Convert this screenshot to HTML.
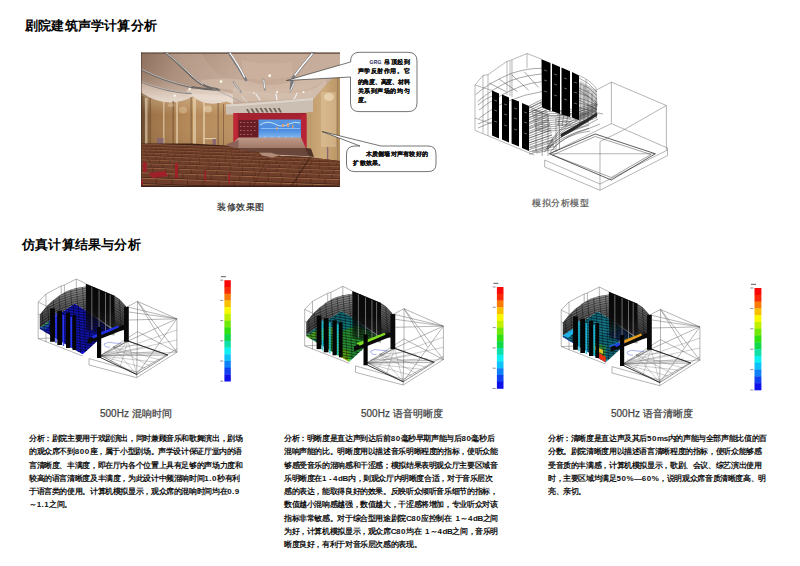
<!DOCTYPE html>
<html><head><meta charset="utf-8">
<style>
*{margin:0;padding:0;box-sizing:border-box}
html,body{width:800px;height:566px;background:#fff;overflow:hidden}
body{position:relative;font-family:"Liberation Sans",sans-serif;color:#000}
.a{position:absolute}
.h{font-size:13px;font-weight:bold;line-height:15px;white-space:nowrap;letter-spacing:0.2px}
.cap{font-size:9px;letter-spacing:0.5px;line-height:11px;white-space:nowrap;color:#555;-webkit-text-stroke:0.2px currentColor}
.cap2{font-size:10px;line-height:12px;white-space:nowrap;color:#444;-webkit-text-stroke:0.25px #444}
.p{font-size:8px;letter-spacing:-0.38px;line-height:13.3px;font-weight:bold;white-space:nowrap;color:#111}
.d{letter-spacing:0.5px}
.co{font-size:6px;line-height:7px;white-space:nowrap;color:#111;font-weight:bold;-webkit-text-stroke:0.15px #111}
</style></head><body>
<div class="a h" style="left:25px;top:18px">剧院建筑声学计算分析</div>
<div class="a h" style="left:22px;top:237px">仿真计算结果与分析</div>

<div class="a cap" style="left:217px;top:201.5px;color:#2a2a2a">装修效果图</div>
<div class="a cap" style="left:532px;top:197.5px;color:#5a5a5a">模拟分析模型</div>

<div class="a cap2" style="left:100px;top:407.5px">500Hz 混响时间</div>
<div class="a cap2" style="left:361px;top:407.5px">500Hz 语音明晰度</div>
<div class="a cap2" style="left:611px;top:407.5px">500Hz 语音清晰度</div>

<div class="a p" style="left:29px;top:432px">分析：剧院主要用于戏剧演出，同时兼顾音乐和歌舞演出，剧场<br>的观众席不到<span class="d">800</span>座，属于小型剧场。声学设计保证厅堂内的语<br>言清晰度、丰满度，即在厅内各个位置上具有足够的声场力度和<br>较高的语言清晰度及丰满度，为此设计中频混响时间<span class="d">1.0</span>秒有利<br>于语言类的使用。计算机模拟显示，观众席的混响时间均在<span class="d">0.9</span><br>～<span class="d">1.1</span>之间。</div>

<div class="a p" style="left:284px;top:432px">分析：明晰度是直达声到达后前<span class="d">80</span>毫秒早期声能与后<span class="d">80</span>毫秒后<br>混响声能的比。明晰度用以描述音乐明晰程度的指标，使听众能<br>够感受音乐的混响感和干涩感；模拟结果表明观众厅主要区域音<br>乐明晰度在<span class="d">1</span> - <span class="d">4</span>dB内，则观众厅内明晰度合适，对于音乐层次<br>感的表达，能取得良好的效果。反映听众倾听音乐细节的指标，<br>数值越小混响感越强，数值越大，干涩感将增加，专业听众对该<br>指标非常敏感。对于综合型用途剧院C<span class="d">80</span>应控制在&nbsp; <span class="d">1</span>～<span class="d">4</span>dB之间<br>为好，计算机模拟显示，观众席C<span class="d">80</span>均在&nbsp; <span class="d">1</span>～<span class="d">4</span>dB之间，音乐明<br>晰度良好，有利于对音乐层次感的表现。</div>

<div class="a p" style="left:548px;top:432px">分析：清晰度是直达声及其后<span class="d">50</span>ms内的声能与全部声能比值的百<br>分数。剧院清晰度用以描述语言清晰程度的指标，使听众能够感<br>受音质的丰满感，计算机模拟显示，歌剧、会议、综艺演出使用<br>时，主要区域均满足<span class="d">50%</span>—<span class="d">60%</span>，说明观众席音质清晰度高、明<br>亮、亲切。</div>

<svg class="a" style="left:141px;top:52px" width="199" height="135" viewBox="0 0 199 135">
<defs>
<linearGradient id="ceil" x1="0" y1="0" x2="1" y2="0.35">
<stop offset="0" stop-color="#8e705e"/><stop offset="0.2" stop-color="#ad907e"/><stop offset="0.5" stop-color="#c4aa98"/><stop offset="1" stop-color="#c8ae9c"/>
</linearGradient>
<linearGradient id="band" x1="0" y1="0" x2="0" y2="1">
<stop offset="0" stop-color="#b8a28e" stop-opacity="0"/><stop offset="1" stop-color="#eadfd4" stop-opacity="0.9"/>
</linearGradient>
<linearGradient id="wallL" x1="0" y1="0" x2="1" y2="0">
<stop offset="0" stop-color="#604028"/><stop offset="0.12" stop-color="#9c7246"/><stop offset="0.5" stop-color="#b48858"/><stop offset="1" stop-color="#bc9262"/>
</linearGradient>
<linearGradient id="wallV" x1="0" y1="0" x2="0" y2="1">
<stop offset="0" stop-color="#fff2d8" stop-opacity="0.35"/><stop offset="0.4" stop-color="#fff2d8" stop-opacity="0"/><stop offset="1" stop-color="#6a4a2a" stop-opacity="0.15"/>
</linearGradient>
<linearGradient id="wallR" x1="0" y1="0" x2="1" y2="0">
<stop offset="0" stop-color="#c09a68"/><stop offset="0.5" stop-color="#ccaa7c"/><stop offset="1" stop-color="#b89262"/>
</linearGradient>
<linearGradient id="screen" x1="0" y1="0" x2="0" y2="1">
<stop offset="0" stop-color="#5a96e0"/><stop offset="0.55" stop-color="#4a8ae0"/><stop offset="1" stop-color="#80b8f0"/>
</linearGradient>
<linearGradient id="stagefl" x1="0" y1="0" x2="0" y2="1">
<stop offset="0" stop-color="#c09888"/><stop offset="1" stop-color="#a07868"/>
</linearGradient>
<linearGradient id="seatrow" x1="0" y1="0" x2="0" y2="1">
<stop offset="0" stop-color="#a87860"/><stop offset="0.3" stop-color="#8a5a44"/><stop offset="1" stop-color="#70422e"/>
</linearGradient>
</defs>
<rect width="199" height="135" fill="url(#ceil)"/>
<!-- ceiling bands lighter lower parts -->
<path d="M0,17.5 Q25,30 50,35 Q70,38 90,42 L92,48 L0,48Z" fill="url(#band)" opacity="0.55"/>
<path d="M24,0 Q40,15 57.5,30 Q70,36 90,42 Q120,48 171,46 L171,30 Q150,38 120,36 Q100,34 90,30 Q70,20 60,0Z" fill="#d0b8a6" opacity="0.25"/>
<linearGradient id="drape" x1="0" y1="0" x2="0" y2="1"><stop offset="0" stop-color="#c8ae9c"/><stop offset="1" stop-color="#f0e6dc"/></linearGradient>
<path d="M0,30 Q25,40 50,41.5 Q70,42 92,44 L92,53 L0,53Z" fill="url(#drape)" opacity="0.9"/>
<path d="M45,38 Q60,36 75,38 Q85,40 92,42 L92,50 L50,46Z" fill="#ece0d4" opacity="0.6"/>
<path d="M88,0 Q97,15 105,28 Q125,38 150,38 Q160,20 172,0Z" fill="#c8a894" opacity="0.3"/>
<path d="M92,36 Q120,44 160,40 Q175,38 185,28 L185,46 L92,50Z" fill="#e0cec0" opacity="0.45"/>
<path d="M60,28 Q90,24 110,30 Q130,36 150,30 Q165,26 180,20 L185,28 Q170,40 150,40 Q125,44 100,40 Q80,36 60,34Z" fill="#dcc6b4" opacity="0.45"/>
<path d="M100,8 Q125,14 150,10 L152,24 Q128,30 104,26Z" fill="#d4bca8" opacity="0.35"/>
<rect width="199" height="1.2" fill="#9a9088"/><rect y="1.2" width="199" height="0.8" fill="#6a5040"/>
<!-- silver strips -->
<g fill="none" stroke-linecap="round">
<path d="M24,0 Q36,10 48,22 Q56,30 64,34 Q70,36.5 76,37" stroke="#6a6664" stroke-width="2.2"/>
<path d="M25,0.5 Q37,10 49,22 Q56,29 62,32.5" stroke="#e0dcd8" stroke-width="0.9"/>
<path d="M0,17.5 Q25,30 50,35 Q65,37.5 78,38" stroke="#6a6664" stroke-width="1.8"/>
<path d="M0,17 Q25,29.5 50,34.5" stroke="#d8d4d0" stroke-width="0.7"/>
<path d="M0,30 Q25,40 50,41.5" stroke="#7a7674" stroke-width="1.3"/><path d="M0,29.6 Q25,39.6 50,41.1" stroke="#dedad6" stroke-width="0.5"/>
<path d="M87.5,0 Q97.5,15 105,28" stroke="#7a7a7e" stroke-width="2.6"/>
<path d="M89,1 Q98,14 103.5,25" stroke="#ffffff" stroke-width="1.3"/>
<path d="M172.5,0 Q162.5,12.5 152.5,25 Q150,30 150,37" stroke="#7a7a7e" stroke-width="2.8"/>
<path d="M171,2 Q162,12.5 154,23" stroke="#ffffff" stroke-width="1.5"/>
<path d="M92.5,30 Q96,35 100,40" stroke="#888" stroke-width="1.6"/>
<path d="M93,30.5 Q96,35 99,39" stroke="#f0f0f0" stroke-width="0.7"/>
<path d="M122.5,27.5 Q123.5,32 123.8,37.5" stroke="#888" stroke-width="1.8"/>
<path d="M122.7,28 Q123.5,32 123.6,36" stroke="#fafafa" stroke-width="0.9"/>
<path d="M153,31 Q151,35 149.5,39" stroke="#999" stroke-width="1.6"/>
<path d="M152.8,31.5 Q151,35 149.8,38" stroke="#fafafa" stroke-width="0.8"/>
<path d="M115,42 Q117,45 119,48" stroke="#eee" stroke-width="1.2"/>
<path d="M135,42 Q135.5,45 136,48" stroke="#f4f4f4" stroke-width="1.2"/>
<path d="M156,41 Q155,44 153,47" stroke="#eee" stroke-width="1.1"/>
<path d="M101,44 Q103,47 106,50" stroke="#ddd" stroke-width="0.9"/>
<path d="M72,36.5 Q85,42 100,50" stroke="#9a9a9a" stroke-width="0.7"/>
</g>
<g fill="#fffdf0">
<circle cx="128.7" cy="23.7" r="1.4"/><circle cx="80" cy="29.5" r="1.3"/><circle cx="48.7" cy="37" r="1.2"/><circle cx="33.7" cy="43.7" r="1.1"/><circle cx="29" cy="51" r="0.9"/>
<circle cx="136" cy="40" r="1"/><circle cx="162.5" cy="40" r="1"/><circle cx="113" cy="41" r="0.8"/>
</g>
<!-- left wall -->
<path d="M0,40.5 Q14,50 29,50.6 Q43,50 51.7,44.4 Q60,51.5 72,51.7 Q80,51.5 85.5,49.5 L94,53 L94,97 L0,97Z" fill="url(#wallL)"/>
<path d="M0,40.5 Q14,50 29,50.6 Q43,50 51.7,44.4 Q60,51.5 72,51.7 Q80,51.5 85.5,49.5 L94,53 L94,97 L0,97Z" fill="url(#wallV)"/>
<g fill="#6e4e30" opacity="0.6">
<rect x="0" y="44" width="2.5" height="53"/><rect x="8.5" y="46" width="1.3" height="51"/><rect x="31.5" y="49" width="1.5" height="48"/><rect x="49.5" y="45" width="1.2" height="52"/><rect x="76.5" y="51" width="1.3" height="46"/><rect x="82" y="52" width="1" height="45"/>
</g>
<g fill="#f4e2c0" opacity="0.55">
<rect x="4" y="46" width="2.5" height="50"/><rect x="52" y="46" width="3" height="50"/><rect x="35" y="50" width="2" height="46"/><rect x="62" y="50" width="2" height="46"/><rect x="22" y="49" width="1.5" height="47"/>
</g>
<ellipse cx="67" cy="57" rx="4" ry="3.5" fill="#fff4da" opacity="0.4"/>
<ellipse cx="42" cy="58" rx="4" ry="3.5" fill="#f4e4c4" opacity="0.3"/>
<ellipse cx="30" cy="53" rx="3" ry="2" fill="#f4e4c4" opacity="0.3"/>
<rect x="16" y="86" width="6.5" height="8" fill="#8a6670"/>
<rect x="64" y="86" width="11" height="1.2" fill="#e0c8a8"/>
<rect x="71.5" y="87" width="3.5" height="8" fill="#8a6670"/>
<!-- right wall -->
<path d="M166,60 Q170,50 176,43 Q184,33 191,27 Q195,25.5 199,25 L199,112 L166,104Z" fill="url(#wallR)"/>
<rect x="180" y="40" width="15" height="55" fill="#e8d0a8" opacity="0.4"/>
<ellipse cx="188" cy="45" rx="5" ry="4" fill="#fff2d8" opacity="0.45"/>
<rect x="186" y="95" width="1.3" height="13" fill="#8a6670"/>
<rect x="196" y="26" width="1.3" height="86" fill="#a08058"/>
<rect x="169" y="60" width="1" height="45" fill="#b89870" opacity="0.6"/>
<!-- valance -->
<path d="M85,52.5 Q100,52 120,50 Q150,48 172,46 L172,60 Q140,61.5 85,62.5Z" fill="#cbbfb4"/>
<path d="M85,52.5 Q130,50 172,46 L172,48 Q130,52 85,54.5Z" fill="#ddd4ca"/>
<g fill="#4e4038" opacity="0.75">
<path d="M105,57 l2,0 l2.5,4.5 l-2,0z"/><path d="M109.5,56.5 l2,0 l2.5,4.5 l-2,0z"/><path d="M114,56.3 l2,0 l2.5,4.5 l-2,0z"/><path d="M118.5,56 l2,0 l2.5,4.5 l-2,0z"/><path d="M123,56 l2,0 l2.5,4.5 l-2,0z"/><path d="M127.5,56 l2,0 l2.5,4.5 l-2,0z"/><path d="M132,56 l2,0 l2.5,4.5 l-2,0z"/><path d="M136.5,56 l2,0 l2.5,4.5 l-2,0z"/>
</g>
<!-- stage frame -->
<rect x="92.5" y="61" width="73" height="36" fill="#a42230"/>
<rect x="92.5" y="61" width="4" height="36" fill="#c02838"/>
<rect x="160" y="63" width="5.5" height="34" fill="#b82434"/>
<rect x="97.5" y="68" width="20" height="22" fill="#6a1c24"/>
<g fill="#c8a0a0" opacity="0.55">
<rect x="99" y="70" width="1.6" height="1"/><rect x="102.5" y="70" width="1.6" height="1"/><rect x="106" y="70" width="1.6" height="1"/><rect x="109.5" y="70" width="1.6" height="1"/><rect x="113" y="70" width="1.6" height="1"/>
<rect x="99" y="74" width="1.6" height="1"/><rect x="102.5" y="74" width="1.6" height="1"/><rect x="106" y="74" width="1.6" height="1"/><rect x="109.5" y="74" width="1.6" height="1"/><rect x="113" y="74" width="1.6" height="1"/>
<rect x="99" y="78" width="1.6" height="1"/><rect x="102.5" y="78" width="1.6" height="1"/><rect x="106" y="78" width="1.6" height="1"/><rect x="109.5" y="78" width="1.6" height="1"/><rect x="113" y="78" width="1.6" height="1"/>
<rect x="99" y="82" width="1.6" height="1"/><rect x="102.5" y="82" width="1.6" height="1"/><rect x="106" y="82" width="1.6" height="1"/><rect x="109.5" y="82" width="1.6" height="1"/>
</g>
<rect x="117.5" y="67.5" width="42.5" height="18.5" fill="url(#screen)"/>
<path d="M119,73 Q126,68 134,72 Q140,76 148,72 Q154,69 159,71" stroke="#bfe4fa" stroke-width="1" fill="none"/>
<path d="M120,76.5 L159,76.5" stroke="#9ccaf4" stroke-width="0.8"/>
<g fill="#e8a060" opacity="0.85"><rect x="141" y="72" width="2" height="3"/><rect x="146" y="71" width="2" height="4"/><rect x="135" y="75" width="1.5" height="3"/><rect x="151" y="73" width="1.5" height="3"/></g>
<g fill="#fff" opacity="0.8"><circle cx="124" cy="85" r="0.6"/><circle cx="131" cy="85" r="0.6"/><circle cx="138" cy="85" r="0.6"/><circle cx="145" cy="85" r="0.6"/><circle cx="151" cy="85" r="0.6"/></g>
<!-- stage floor -->
<path d="M97.5,85.5 L160,85.5 L165,96.5 L86,96.5 Z" fill="url(#stagefl)"/>
<path d="M86,92 L97.5,88 L97.5,96.5 L86,96.5Z" fill="#8a6258"/>
<path d="M84,96 L166,96 L170,100 L172,104.5 L84,100Z" fill="#6a463a"/>
<path d="M164,96 L170,96.5 L173,105 L168,104Z" fill="#50342a"/>
<!-- seating -->
<clipPath id="seatclip"><path d="M0,91.5 L50,91.5 L85,93.5 L100,98 L120,100.5 L132,102 L140,104 L166,105 L199,109 L199,135 L0,135Z"/></clipPath>
<g clip-path="url(#seatclip)">
<rect x="0" y="88" width="199" height="47" fill="#3e2216"/>
<path d="M0,92.0 L199,99.0 L199,101.0 L0,94.0Z" fill="#6e3e2a"/>
<path d="M0,92.0 L199,99.0" stroke="#a06848" stroke-width="0.64"/>
<path d="M0.0,92.0 l0,2.0 M3.0,92.1 l0,2.0 M6.0,92.2 l0,2.0 M9.0,92.3 l0,2.0 M12.0,92.4 l0,2.0 M15.0,92.5 l0,2.0 M18.0,92.6 l0,2.0 M21.0,92.7 l0,2.0 M24.0,92.8 l0,2.0 M27.0,92.9 l0,2.0 M30.0,93.0 l0,2.0 M33.0,93.2 l0,2.0 M36.0,93.3 l0,2.0 M39.0,93.4 l0,2.0 M42.0,93.5 l0,2.0 M45.0,93.6 l0,2.0 M48.0,93.7 l0,2.0 M51.0,93.8 l0,2.0 M54.0,93.9 l0,2.0 M57.0,94.0 l0,2.0 M60.0,94.1 l0,2.0 M63.0,94.2 l0,2.0 M66.0,94.3 l0,2.0 M69.0,94.4 l0,2.0 M72.0,94.5 l0,2.0 M75.0,94.6 l0,2.0 M78.0,94.7 l0,2.0 M81.0,94.8 l0,2.0 M84.0,94.9 l0,2.0 M87.0,95.0 l0,2.0 M90.0,95.2 l0,2.0 M93.0,95.3 l0,2.0 M96.0,95.4 l0,2.0 M99.0,95.5 l0,2.0 M102.0,95.6 l0,2.0 M105.0,95.7 l0,2.0 M108.0,95.8 l0,2.0 M111.0,95.9 l0,2.0 M114.0,96.0 l0,2.0 M117.0,96.1 l0,2.0 M120.0,96.2 l0,2.0 M123.0,96.3 l0,2.0 M126.0,96.4 l0,2.0 M129.0,96.5 l0,2.0 M132.0,96.6 l0,2.0 M135.0,96.7 l0,2.0 M138.0,96.8 l0,2.0 M141.0,96.9 l0,2.0 M144.0,97.0 l0,2.0 M147.0,97.1 l0,2.0 M150.0,97.2 l0,2.0 M153.0,97.4 l0,2.0 M156.0,97.5 l0,2.0 M159.0,97.6 l0,2.0 M162.0,97.7 l0,2.0 M165.0,97.8 l0,2.0 M168.0,97.9 l0,2.0 M171.0,98.0 l0,2.0 M174.0,98.1 l0,2.0 M177.0,98.2 l0,2.0 M180.0,98.3 l0,2.0 M183.0,98.4 l0,2.0 M186.0,98.5 l0,2.0 M189.0,98.6 l0,2.0 M192.0,98.7 l0,2.0 M195.0,98.8 l0,2.0 M198.0,98.9 l0,2.0" stroke="#3e2216" stroke-width="0.30" opacity="0.7"/>
<path d="M0,94.8 L199,101.8 L199,104.0 L0,97.0Z" fill="#6e3e2a"/>
<path d="M0,94.8 L199,101.8" stroke="#a06848" stroke-width="0.66"/>
<path d="M1.7,94.9 l0,2.2 M6.1,95.0 l0,2.2 M10.5,95.2 l0,2.2 M14.9,95.3 l0,2.2 M19.3,95.5 l0,2.2 M23.7,95.6 l0,2.2 M28.1,95.8 l0,2.2 M32.5,95.9 l0,2.2 M36.9,96.1 l0,2.2 M41.3,96.2 l0,2.2 M45.7,96.4 l0,2.2 M50.1,96.6 l0,2.2 M54.5,96.7 l0,2.2 M58.9,96.9 l0,2.2 M63.3,97.0 l0,2.2 M67.7,97.2 l0,2.2 M72.1,97.3 l0,2.2 M76.5,97.5 l0,2.2 M80.9,97.6 l0,2.2 M85.3,97.8 l0,2.2 M89.7,97.9 l0,2.2 M94.1,98.1 l0,2.2 M98.5,98.2 l0,2.2 M102.9,98.4 l0,2.2 M107.3,98.6 l0,2.2 M111.7,98.7 l0,2.2 M116.1,98.9 l0,2.2 M120.5,99.0 l0,2.2 M124.9,99.2 l0,2.2 M129.3,99.3 l0,2.2 M133.7,99.5 l0,2.2 M138.1,99.6 l0,2.2 M142.5,99.8 l0,2.2 M146.9,99.9 l0,2.2 M151.3,100.1 l0,2.2 M155.7,100.2 l0,2.2 M160.1,100.4 l0,2.2 M164.5,100.6 l0,2.2 M168.9,100.7 l0,2.2 M173.3,100.9 l0,2.2 M177.7,101.0 l0,2.2 M182.1,101.2 l0,2.2 M186.5,101.3 l0,2.2 M190.9,101.5 l0,2.2 M195.3,101.6 l0,2.2" stroke="#3e2216" stroke-width="0.35" opacity="0.7"/>
<path d="M0,97.7 L199,104.7 L199,107.0 L0,100.1Z" fill="#6e3e2a"/>
<path d="M0,97.7 L199,104.7" stroke="#a06848" stroke-width="0.69"/>
<path d="M3.4,97.8 l0,2.4 M9.2,98.0 l0,2.4 M15.0,98.2 l0,2.4 M20.8,98.4 l0,2.4 M26.6,98.6 l0,2.4 M32.4,98.8 l0,2.4 M38.2,99.0 l0,2.4 M44.0,99.2 l0,2.4 M49.8,99.4 l0,2.4 M55.6,99.6 l0,2.4 M61.4,99.8 l0,2.4 M67.2,100.1 l0,2.4 M73.0,100.3 l0,2.4 M78.8,100.5 l0,2.4 M84.6,100.7 l0,2.4 M90.4,100.9 l0,2.4 M96.2,101.1 l0,2.4 M102.0,101.3 l0,2.4 M107.8,101.5 l0,2.4 M113.6,101.7 l0,2.4 M119.4,101.9 l0,2.4 M125.2,102.1 l0,2.4 M131.0,102.3 l0,2.4 M136.8,102.5 l0,2.4 M142.6,102.7 l0,2.4 M148.4,102.9 l0,2.4 M154.2,103.1 l0,2.4 M160.0,103.3 l0,2.4 M165.8,103.5 l0,2.4 M171.6,103.7 l0,2.4 M177.4,103.9 l0,2.4 M183.2,104.1 l0,2.4 M189.0,104.3 l0,2.4 M194.8,104.5 l0,2.4" stroke="#3e2216" stroke-width="0.40" opacity="0.7"/>
<path d="M0,100.8 L199,107.8 L199,110.3 L0,103.3Z" fill="#6e3e2a"/>
<path d="M0,100.8 L199,107.8" stroke="#a06848" stroke-width="0.71"/>
<path d="M5.1,101.0 l0,2.5 M12.3,101.2 l0,2.5 M19.5,101.5 l0,2.5 M26.7,101.7 l0,2.5 M33.9,102.0 l0,2.5 M41.1,102.2 l0,2.5 M48.3,102.5 l0,2.5 M55.5,102.7 l0,2.5 M62.7,103.0 l0,2.5 M69.9,103.2 l0,2.5 M77.1,103.5 l0,2.5 M84.3,103.8 l0,2.5 M91.5,104.0 l0,2.5 M98.7,104.3 l0,2.5 M105.9,104.5 l0,2.5 M113.1,104.8 l0,2.5 M120.3,105.0 l0,2.5 M127.5,105.3 l0,2.5 M134.7,105.5 l0,2.5 M141.9,105.8 l0,2.5 M149.1,106.0 l0,2.5 M156.3,106.3 l0,2.5 M163.5,106.5 l0,2.5 M170.7,106.8 l0,2.5 M177.9,107.0 l0,2.5 M185.1,107.3 l0,2.5 M192.3,107.5 l0,2.5" stroke="#3e2216" stroke-width="0.45" opacity="0.7"/>
<path d="M0,104.1 L199,111.1 L199,113.9 L0,106.9Z" fill="#6e3e2a"/>
<path d="M0,104.1 L199,111.1" stroke="#a06848" stroke-width="0.75"/>
<path d="M6.8,104.3 l0,2.8 M15.4,104.6 l0,2.8 M24.0,104.9 l0,2.8 M32.6,105.2 l0,2.8 M41.2,105.5 l0,2.8 M49.8,105.8 l0,2.8 M58.4,106.1 l0,2.8 M67.0,106.4 l0,2.8 M75.6,106.7 l0,2.8 M84.2,107.0 l0,2.8 M92.8,107.3 l0,2.8 M101.4,107.6 l0,2.8 M110.0,107.9 l0,2.8 M118.6,108.3 l0,2.8 M127.2,108.6 l0,2.8 M135.8,108.9 l0,2.8 M144.4,109.2 l0,2.8 M153.0,109.5 l0,2.8 M161.6,109.8 l0,2.8 M170.2,110.1 l0,2.8 M178.8,110.4 l0,2.8 M187.4,110.7 l0,2.8 M196.0,111.0 l0,2.8" stroke="#3e2216" stroke-width="0.50" opacity="0.7"/>
<path d="M0,107.7 L199,114.7 L199,117.7 L0,110.8Z" fill="#6e3e2a"/>
<path d="M0,107.7 L199,114.7" stroke="#a06848" stroke-width="0.78"/>
<path d="M8.5,108.0 l0,3.1 M18.5,108.3 l0,3.1 M28.5,108.7 l0,3.1 M38.5,109.0 l0,3.1 M48.5,109.4 l0,3.1 M58.5,109.7 l0,3.1 M68.5,110.1 l0,3.1 M78.5,110.4 l0,3.1 M88.5,110.8 l0,3.1 M98.5,111.1 l0,3.1 M108.5,111.5 l0,3.1 M118.5,111.8 l0,3.1 M128.5,112.2 l0,3.1 M138.5,112.5 l0,3.1 M148.5,112.9 l0,3.1 M158.5,113.2 l0,3.1 M168.5,113.6 l0,3.1 M178.5,113.9 l0,3.1 M188.5,114.3 l0,3.1 M198.5,114.6 l0,3.1" stroke="#3e2216" stroke-width="0.55" opacity="0.7"/>
<path d="M0,111.6 L199,118.6 L199,122.0 L0,115.0Z" fill="#6e3e2a"/>
<path d="M0,111.6 L199,118.6" stroke="#a06848" stroke-width="0.83"/>
<path d="M10.2,112.0 l0,3.4 M21.6,112.4 l0,3.4 M33.0,112.8 l0,3.4 M44.4,113.2 l0,3.4 M55.8,113.6 l0,3.4 M67.2,114.0 l0,3.4 M78.6,114.4 l0,3.4 M90.0,114.8 l0,3.4 M101.4,115.1 l0,3.4 M112.8,115.5 l0,3.4 M124.2,115.9 l0,3.4 M135.6,116.3 l0,3.4 M147.0,116.7 l0,3.4 M158.4,117.1 l0,3.4 M169.8,117.5 l0,3.4 M181.2,117.9 l0,3.4 M192.6,118.3 l0,3.4" stroke="#3e2216" stroke-width="0.60" opacity="0.7"/>
<path d="M0,115.9 L199,122.9 L199,126.7 L0,119.7Z" fill="#6e3e2a"/>
<path d="M0,115.9 L199,122.9" stroke="#a06848" stroke-width="0.89"/>
<path d="M11.9,116.3 l0,3.8 M24.7,116.8 l0,3.8 M37.5,117.2 l0,3.8 M50.3,117.7 l0,3.8 M63.1,118.1 l0,3.8 M75.9,118.6 l0,3.8 M88.7,119.0 l0,3.8 M101.5,119.5 l0,3.8 M114.3,119.9 l0,3.8 M127.1,120.3 l0,3.8 M139.9,120.8 l0,3.8 M152.7,121.2 l0,3.8 M165.5,121.7 l0,3.8 M178.3,122.1 l0,3.8 M191.1,122.6 l0,3.8" stroke="#3e2216" stroke-width="0.65" opacity="0.7"/>
<path d="M0,120.7 L199,127.7 L199,132.1 L0,125.1Z" fill="#6e3e2a"/>
<path d="M0,120.7 L199,127.7" stroke="#a06848" stroke-width="0.97"/>
<path d="M13.6,121.2 l0,4.4 M27.8,121.7 l0,4.4 M42.0,122.2 l0,4.4 M56.2,122.7 l0,4.4 M70.4,123.2 l0,4.4 M84.6,123.7 l0,4.4 M98.8,124.2 l0,4.4 M113.0,124.7 l0,4.4 M127.2,125.2 l0,4.4 M141.4,125.6 l0,4.4 M155.6,126.1 l0,4.4 M169.8,126.6 l0,4.4 M184.0,127.1 l0,4.4 M198.2,127.6 l0,4.4" stroke="#3e2216" stroke-width="0.70" opacity="0.7"/>
<path d="M0,126.2 L199,133.2 L199,138.3 L0,131.3Z" fill="#6e3e2a"/>
<path d="M0,126.2 L199,133.2" stroke="#a06848" stroke-width="1.07"/>
<path d="M15.3,126.7 l0,5.1 M30.9,127.3 l0,5.1 M46.5,127.8 l0,5.1 M62.1,128.4 l0,5.1 M77.7,128.9 l0,5.1 M93.3,129.5 l0,5.1 M108.9,130.0 l0,5.1 M124.5,130.6 l0,5.1 M140.1,131.1 l0,5.1 M155.7,131.6 l0,5.1 M171.3,132.2 l0,5.1 M186.9,132.7 l0,5.1" stroke="#3e2216" stroke-width="0.75" opacity="0.7"/>
<path d="M0,132.5 L199,139.5 L199,145.0 L0,138.0Z" fill="#6e3e2a"/>
<path d="M0,132.5 L199,139.5" stroke="#a06848" stroke-width="1.13"/>
<path d="M0.0,132.5 l0,5.5 M17.0,133.1 l0,5.5 M34.0,133.7 l0,5.5 M51.0,134.3 l0,5.5 M68.0,134.9 l0,5.5 M85.0,135.5 l0,5.5 M102.0,136.1 l0,5.5 M119.0,136.7 l0,5.5 M136.0,137.3 l0,5.5 M153.0,137.9 l0,5.5 M170.0,138.4 l0,5.5 M187.0,139.0 l0,5.5" stroke="#3e2216" stroke-width="0.80" opacity="0.7"/>
<path d="M170,104 L150,135" stroke="#3a2014" stroke-width="1.4" opacity="0.6"/>
<path d="M128,102 L112,135" stroke="#3a2014" stroke-width="1" opacity="0.4"/>
</g>
<path d="M118,100.5 L130,100.8 L139,103.5 L131,105.5 L121,103.5Z" fill="#b08c78"/>
<g fill="#a0202a">
<rect x="2" y="110" width="3.5" height="10"/><path d="M8,121 L24,119 L27,124 L11,126Z"/><rect x="34" y="111" width="3" height="15"/><rect x="63.5" y="118" width="1.6" height="11"/><rect x="87.5" y="121" width="1.5" height="10"/><rect x="0" y="128" width="2" height="7"/>
</g>
<rect x="0" y="133.5" width="199" height="1.5" fill="#3a2018"/>
<rect x="0" y="0" width="1" height="135" fill="#4a3020" opacity="0.5"/>
</svg>
<svg class="a" style="left:0;top:0" width="800" height="566" viewBox="0 0 800 566">
<g fill="#fff" stroke="#3a3a3a" stroke-width="0.7" stroke-linejoin="round">
<path d="M359,52.3 L408,52.3 Q417,52.3 417,61 L417,103 Q417,111.6 408,111.6 L359,111.6 Q350.5,111.6 350.5,103 L350.5,77 L286.5,80.5 L350.5,62 Q350.5,52.3 359,52.3Z"/>
<path d="M355,146 L360,146 L322,131.5 L381,146 L428,146 Q436,146 436,154 L436,164 Q436,171.6 428,171.6 L355,171.6 Q346.5,171.6 346.5,164 L346.5,154 Q346.5,146 355,146Z"/>
</g>
</svg>
<div class="a co" style="left:369.5px;top:59px"><span style="font-family:'Liberation Sans';font-size:5px;color:#5a5a9a;letter-spacing:0.3px">GRG</span><span style="letter-spacing:0.6px"> 吊顶起到</span></div>
<div class="a co" style="left:357.7px;top:68.2px;letter-spacing:0.56px">声学反射作用。它</div>
<div class="a co" style="left:357.7px;top:78.6px;letter-spacing:-0.26px">的角度、高度、材料</div>
<div class="a co" style="left:357.7px;top:87.5px;letter-spacing:0.56px">关系到声场的均匀</div>
<div class="a co" style="left:357.7px;top:97px;letter-spacing:0.56px">度。</div>
<div class="a co" style="left:365.6px;top:150.8px;letter-spacing:0.26px">木质侧墙对声有较好的</div>
<div class="a co" style="left:353.4px;top:160.4px;letter-spacing:0.26px">扩散效果。</div>
<svg class="a" style="left:0;top:0" width="800" height="566" viewBox="0 0 800 566">
<!-- ===== top-right wireframe model ===== -->
<g stroke="#707070" stroke-width="0.5" fill="none">
<path d="M475,85 L483,75.4 L488,74.7 L507,61.3 L512,59.8 L527,53.5 L541.5,59.2"/>
<path d="M475,85 L475,130.4 L534.3,155.1"/>
<path d="M483,75.4 L483,133.5 M488,74.7 L488,135.8 M507,61.3 L507,95 M512,59.8 L512,97 M527,53.5 L527,68"/>
<path d="M475,85 L492,90.5"/>
<path d="M579,75.4 Q590,80 596,88 L597,107 M586,79 L586,100"/>
<path d="M475,118 L492,124"/>
</g>
<rect x="509" y="60" width="2.5" height="36" fill="#c8c8c8" opacity="0.6"/>
<g stroke="#505050" stroke-width="0.5" fill="none">
<!-- balcony arcs left -->
<path d="M475.6,94.5 Q490,82 511.6,73.3 Q528,68 542,68.3"/>
<path d="M477.7,101.5 Q492,89 511.6,80.3 Q528,75 542,74"/>
<path d="M479,110 Q496,96 521.5,86 Q532,82.5 542,81.7"/>
<path d="M479,118.5 Q495,106 507.4,101.5 Q525,94 542,91.6"/>
<path d="M489,83 L506,91.6 M499,79 L517.3,91.6 M511.6,74.7 L528.6,90.2 M524.4,71.9 L538.5,87.4"/>
<path d="M478,105 Q486,98 492,96 M478,124 L492,118 M478,128 L492,122"/>
</g>
<!-- center hatch -->
<g stroke="#3a3a3a" stroke-width="0.45" fill="none">
<path d="M529,108 L545,100 M529,113 L546,105 M529,118 L547,110 M529,123 L548,115 M529,128 L549,120 M529,133 L550,125 M529,138 L551,130 M529,143 L552,135 M530,148 L553,140 M532,152 L554,145 M536,153 L555,149"/>
<path d="M542.2,112 L542.2,156 M548,114 L548,156 M556,118 L556,152 M559.4,119 L559.4,150 M536,110 L536,152"/>
<path d="M550,152.4 Q562,136 589.3,128.3 L600,124"/>
<path d="M547,150 Q560,133 589,124 L598,119"/>
<path d="M553,148 Q566,134 590,131"/>
<path d="M529,106 Q545,117 558,116 Q575,115 598,104"/>
<path d="M540,103 Q552,110 565,112"/>
<path d="M557,114.5 L571,114.5 M557,118 L571,118 M557,121.5 L571,121.5 M557,125 L571,125 M560,114 L558,126 M564,114 L562,126 M568,114 L566,126"/>
<path d="M580,84 L580,125 M584,86 L584,124 M588,90 L588,122 M592,93 L592,120 M596,98 L596,118"/>
<path d="M579,90 Q588,95 597,105 M579,100 Q588,104 597,110"/>
<path d="M598,113 L603,114"/>
</g>
<g stroke="#262626" stroke-width="0.45" fill="none"><path d="M529,106.0 L545.0,98.0 M529,108.3 L545.5,100.3 M529,110.6 L545.9,102.6 M529,112.9 L546.4,104.9 M529,115.2 L546.8,107.2 M529,117.5 L547.2,109.5 M529,119.8 L547.7,111.8 M529,122.1 L548.1,114.1 M529,124.4 L548.6,116.4 M529,126.7 L549.0,118.7 M529,129.0 L549.5,121.0 M529,131.3 L550.0,123.3 M529,133.6 L550.4,125.6 M529,135.9 L550.9,127.9 M529,138.2 L551.3,130.2 M529,140.5 L551.8,132.5 M529,142.8 L552.2,134.8 M529,145.1 L552.6,137.1 M529,147.4 L553.1,139.4 M529,149.7 L553.5,141.7 M529,152.0 L554.0,144.0 M529,154.3 L554.5,146.3 M544.0,152.0 Q560,136 589,128.3 M545.5,149.5 Q561,133 589,125.1 M547.0,147.0 Q562,130 589,121.9 M548.5,144.5 Q563,127 589,118.7 M550.0,142.0 Q564,124 589,115.5 M551.5,139.5 Q565,121 589,112.3 M581,81.2 L581,120.2 M583,82.4 L583,119.4 M585,83.6 L585,118.6 M587,84.8 L587,117.8 M589,86.0 L589,117.0 M591,87.2 L591,116.2 M593,88.4 L593,115.4 M595,89.6 L595,114.6"/></g>
<g stroke="#2e2e2e" stroke-width="0.4" fill="none"><path d="M531.0,110.0 Q555,116.0 597,103.0 M531.5,112.2 Q555,118.2 597,104.6 M532.0,114.4 Q555,120.4 597,106.2 M532.5,116.6 Q555,122.6 597,107.8 M533.0,118.8 Q555,124.8 597,109.4 M533.5,121.0 Q555,127.0 597,111.0 M534.0,123.2 Q555,129.2 597,112.6 M534.5,125.4 Q555,131.4 597,114.2 M535.0,127.6 Q555,133.6 597,115.8 M535.5,129.8 Q555,135.8 597,117.4 M579,78.0 Q589,82.0 597,92.0 M579,83.0 Q589,86.5 597,95.5 M579,88.0 Q589,91.0 597,99.0 M579,93.0 Q589,95.5 597,102.5 M579,98.0 Q589,100.0 597,106.0 M579,103.0 Q589,104.5 597,109.5 M579,108.0 Q589,109.0 597,113.0 M579,113.0 Q589,113.5 597,116.5"/></g>
<path d="M560.6,134 Q575,126 597.3,112.2 L597.3,115.5 Q577,129 561,137.5Z" fill="#2a2a2a"/>
<path d="M575,121 L597,111 L597,106 L575,116Z" fill="#555" opacity="0.5"/>
<!-- stage box -->
<g stroke="#6a6a6a" stroke-width="0.5" fill="none">
<path d="M596.5,90 L611.4,82.1 L666.4,105.5 L666.4,150 M611.4,82.1 L611.4,123.6 L667.5,148"/>
<path d="M666.4,105.5 L622.6,130.5 L600,141.5"/>
<path d="M600,141.5 L600,190.3 L667.5,155.6 L667.5,148 M544.7,160 L544.7,167 L600,190.3"/>
<path d="M544.7,160 L600,184 L667.5,150"/>
<path d="M611.4,123.6 L596,131 L549.4,153.75"/>
<path d="M549.4,153.75 L655.3,153.75"/>
</g>
<g stroke="#333" stroke-width="0.8" fill="none">
<path d="M549.4,153.75 L595.3,134 L655.3,153.75 L611.25,180 Z"/>
<path d="M552.5,155 L595.3,136.5 L651,154.5 L611.25,177.5 Z" stroke-width="0.45"/>
</g>
<g fill="#000">
<path d="M492,90.5 L499,93.5 L499,138.5 L492,135.5Z"/>
<path d="M502,94.5 L509,97.5 L509,142.5 L502,139.5Z"/>
<path d="M511.6,98.7 L519,101.5 L519,146.6 L511.6,143.6Z"/>
<path d="M522,103 L529,106 L529,151 L522,148Z"/>
<path d="M541.5,59.2 L550.5,63 L550.5,111 L542,107.2Z"/>
<path d="M552,63.6 L560,67 L560,114 L552,111Z"/>
<path d="M561.5,67.6 L570,71.3 L570,117 L561.5,114.5Z"/>
<path d="M572,72 L579,75.4 L579,120 L572,117.5Z"/>
</g>
<g stroke="#bbb" stroke-width="0.5">
<path d="M494,100 l3,1 M494,110 l3,1 M494,121 l3,1 M504,104 l3,1 M504,114 l3,1 M504,125 l3,1 M514,108 l3,1 M514,118 l3,1 M514,129 l3,1 M524,112 l3,1 M524,122 l3,1 M524,133 l3,1"/>
<path d="M544,70 l3,1 M544,80 l3,1 M544,91 l3,1 M554,74 l3,1 M554,84 l3,1 M554,95 l3,1 M564,78 l3,1 M564,88 l3,1 M564,99 l3,1 M574,82 l3,1 M574,92 l3,1 M574,103 l3,1"/>
</g>
</svg>
<svg class="a" style="left:0;top:0" width="800" height="566" viewBox="0 0 800 566">
<defs>
<clipPath id="floorclip"><path d="M39.8,327.5 L50.9,319.5 L74.7,303.6 L87.5,311.6 L111.3,329 L116,330.6 L101.8,337 L82.7,354.5 L39.8,329Z"/></clipPath>
<clipPath id="domeclip"><path d="M39.8,314.7 Q50,300 66.8,290.9 Q76,287.5 85.9,286.5 L85.9,283.7 L114.5,295.7 Q122,300 127.2,308.4 L128,330 L116,330.6 L87.5,311.6 L74.7,303.6 L50.9,319.5 L39.8,327.5Z"/></clipPath>
<g id="simwire"><g stroke="#6a6a6a" stroke-width="0.5" fill="none"><path d="M38.2,302 L46,294 L61.2,286 L64.4,285 L76.3,279 L85.9,283.7"/><path d="M38.2,302 L38.2,338.6 L82.7,356"/><path d="M46,294 L46,342 M61.2,286 L61.2,300 M64.4,285 L64.4,298 M76.3,279 L76.3,290"/><path d="M38.2,302 L52,309 M38.2,338.6 L50,338 M46,318 L38.2,314"/><path d="M127.1,306.9 L137.5,301.4 L176.9,318.8 L176.9,352.2 L136.7,377.7 L89,365 L89,358.6"/><path d="M137.5,301.4 L137.5,331.6 L176.9,352.2 M137.5,331.6 L100.9,355.4"/><path d="M89,358.6 L136.7,372 L176.9,349 M136.7,372 L136.7,377.7"/><path d="M137.5,301.4 L176.9,352.2 M176.9,318.8 L128,341 M137.5,301.4 L161,339.5 M127.1,306.9 L176.9,318.8 M129,312 L176.9,318.8 M129,320 L176.9,318.8 M176.9,318.8 L136.7,374.5 M137.5,331.6 L136.7,374.5"/></g><g stroke="#202020" stroke-width="0.5" fill="none"><path d="M100.9,355.4 L128,341 L167.7,355 L136.7,374.5 Z"/><path d="M100.9,357.8 L136.7,374.5" stroke-width="0.9"/><path d="M128,341 L167.7,355" stroke-width="0.9"/></g><g stroke="#444" stroke-width="0.35" fill="none" opacity="0.75"><path d="M100.9,356 L167.7,355"/><path d="M100.9,356 L176.9,352.2"/><path d="M100.9,356 L161,351"/><path d="M100.9,356 L150,347"/><path d="M100.9,356 L176.9,340"/><path d="M100.9,356 L176.9,330"/><path d="M100.9,356 L155,362"/><path d="M100.9,356 L145,368"/><path d="M113,347 L136.7,374.5"/><path d="M113,347 L150,366"/><path d="M113,347 L160,360"/><path d="M113,347 L128,341"/><path d="M113,347 L140,345"/><path d="M128,341 L100.9,357"/><path d="M128,341 L110,362"/><path d="M128,341 L120,367"/><path d="M128,341 L136.7,374.5"/><path d="M104,352 L164,353 M100.9,355.4 L167.7,355"/></g><linearGradient id="domeg" x1="0" y1="0" x2="0" y2="1"><stop offset="0" stop-color="#9a9a9a"/><stop offset="0.45" stop-color="#5e5e5e"/><stop offset="1" stop-color="#2a2a2a"/></linearGradient><path d="M39.8,314.7 Q50,300 66.8,290.9 Q76,287.5 85.9,286.5 L85.9,283.7 L114.5,295.7 Q122,300 127.2,308.4 L128,330 L116,330.6 L87.5,311.6 L74.7,303.6 L50.9,319.5 L39.8,327.5Z" fill="url(#domeg)"/><g clip-path="url(#domeclip)" stroke="#0a0a0a" stroke-width="0.45" fill="none"><path d="M36,304.0 Q60,290.0 86,286.0 Q110,288.0 130,305.0"/><path d="M36,306.64 Q60,292.2 86,288.2 Q110,290.2 130,307.2"/><path d="M36,309.28 Q60,294.4 86,290.4 Q110,292.4 130,309.4"/><path d="M36,311.92 Q60,296.6 86,292.6 Q110,294.6 130,311.6"/><path d="M36,314.56 Q60,298.8 86,294.8 Q110,296.8 130,313.8"/><path d="M36,317.2 Q60,301.0 86,297.0 Q110,299.0 130,316.0"/><path d="M36,319.84 Q60,303.2 86,299.2 Q110,301.2 130,318.2"/><path d="M36,322.47999999999996 Q60,305.4 86,301.4 Q110,303.4 130,320.4"/><path d="M36,325.12 Q60,307.6 86,303.6 Q110,305.6 130,322.6"/><path d="M36,327.76 Q60,309.8 86,305.8 Q110,307.8 130,324.8"/><path d="M36,330.4 Q60,312.0 86,308.0 Q110,310.0 130,327.0"/><path d="M36,333.03999999999996 Q60,314.2 86,310.2 Q110,312.2 130,329.2"/><path d="M36,335.67999999999995 Q60,316.4 86,312.4 Q110,314.4 130,331.4"/><path d="M36,338.32000000000005 Q60,318.6 86,314.6 Q110,316.6 130,333.6"/><path d="M40,280 L44,340"/><path d="M46,280 L50,340"/><path d="M52,280 L56,340"/><path d="M58,280 L62,340"/><path d="M64,280 L68,340"/><path d="M70,280 L74,340"/><path d="M76,280 L80,340"/><path d="M82,280 L86,340"/><path d="M88,280 L92,340"/><path d="M94,280 L98,340"/><path d="M100,280 L104,340"/><path d="M106,280 L110,340"/><path d="M112,280 L116,340"/><path d="M118,280 L122,340"/><path d="M124,280 L128,340"/><path d="M130,280 L134,340"/></g><g clip-path="url(#domeclip)" stroke="#8a8a8a" stroke-width="0.3" fill="none" opacity="0.6"><path d="M36,306.0 Q60,291.0 86,287.0 Q110,289.0 130,306.0"/><path d="M36,309.3 Q60,294.3 86,290.3 Q110,292.3 130,309.3"/><path d="M36,312.6 Q60,297.6 86,293.6 Q110,295.6 130,312.6"/><path d="M36,315.9 Q60,300.9 86,296.9 Q110,298.9 130,315.9"/><path d="M36,319.2 Q60,304.2 86,300.2 Q110,302.2 130,319.2"/><path d="M36,322.5 Q60,307.5 86,303.5 Q110,305.5 130,322.5"/><path d="M36,325.8 Q60,310.8 86,306.8 Q110,308.8 130,325.8"/><path d="M36,329.1 Q60,314.1 86,310.1 Q110,312.1 130,329.1"/></g><path d="M104,344 Q108,341 114,343 L121,343.5 M104,344 Q105,348 110,347" stroke="#4058d8" stroke-width="0.45" fill="none"/></g>
<g id="simpanels"><linearGradient id="panelg" x1="0" y1="0" x2="0" y2="1"><stop offset="0" stop-color="#080808" stop-opacity="1"/><stop offset="0.5" stop-color="#080808" stop-opacity="0.95"/><stop offset="1" stop-color="#080808" stop-opacity="0.35"/></linearGradient><path d="M85.9,283.7 L114.5,295.7 L114.5,335.4 L85.9,330.6Z" fill="url(#panelg)"/><g fill="#9a9a9a" opacity="0.75"><path d="M91.4,287.01 l0.9,0.4 l0,42.9 l-0.9,-0.3z"/><path d="M98.6,290.034 l0.9,0.4 l0,41.5 l-0.9,-0.3z"/><path d="M105,292.722 l0.9,0.4 l0,40.2 l-0.9,-0.3z"/><path d="M109.7,294.69599999999997 l0.9,0.4 l0,39.2 l-0.9,-0.3z"/></g><path d="M124,306.8 h4.8 v35 h-4.8z" fill="#0a0a0a"/><path d="M87.5,339 L124,325 L124,329.5 L87.5,344Z" fill="#0a0a0a"/></g>
<g id="simbars" fill="#050505">
<path d="M50.1,308.4 h4.8 v33.4 h-4.8z"/><path d="M57.3,310.8 h4.7 v34.2 h-4.7z"/><path d="M66,313 h4.2 v35 h-4.2z"/><path d="M72.5,315 h3.6 v35 h-3.6z"/><path d="M97,327 h4.2 v31 h-4.2z"/>
</g>
</defs>
<g transform="translate(0,0)">
<use href="#simwire"/>
<g clip-path="url(#floorclip)">
<path d="M39.8,327.5 L50.9,319.5 L74.7,303.6 L87.5,311.6 L111.3,329 L116,330.6 L101.8,337 L82.7,354.5 L39.8,329Z" fill="#1a1ae0"/>
<path d="M39.8,327.5 L48,321 L54,322 L44,331Z" fill="#2a6af0"/>
<path d="M41,327 L49,322" stroke="#50e050" stroke-width="1.2"/>
<path d="M60,310 L67,307" stroke="#40d040" stroke-width="0.8"/>
<g stroke="#000" stroke-width="0.75" opacity="0.85">
<path d="M36,300.0 L120,291.0"/>
<path d="M36,301.6 L120,292.6"/>
<path d="M36,303.2 L120,294.2"/>
<path d="M36,304.8 L120,295.8"/>
<path d="M36,306.4 L120,297.4"/>
<path d="M36,308.0 L120,299.0"/>
<path d="M36,309.6 L120,300.6"/>
<path d="M36,311.2 L120,302.2"/>
<path d="M36,312.8 L120,303.8"/>
<path d="M36,314.4 L120,305.4"/>
<path d="M36,316.0 L120,307.0"/>
<path d="M36,317.6 L120,308.6"/>
<path d="M36,319.2 L120,310.2"/>
<path d="M36,320.8 L120,311.8"/>
<path d="M36,322.4 L120,313.4"/>
<path d="M36,324.0 L120,315.0"/>
<path d="M36,325.6 L120,316.6"/>
<path d="M36,327.2 L120,318.2"/>
<path d="M36,328.8 L120,319.8"/>
<path d="M36,330.4 L120,321.4"/>
<path d="M36,332.0 L120,323.0"/>
<path d="M36,333.6 L120,324.6"/>
<path d="M36,335.2 L120,326.2"/>
<path d="M36,336.8 L120,327.8"/>
<path d="M36,338.4 L120,329.4"/>
<path d="M36,340.0 L120,331.0"/>
<path d="M36,341.6 L120,332.6"/>
<path d="M36,343.2 L120,334.2"/>
<path d="M36,344.8 L120,335.8"/>
<path d="M36,346.4 L120,337.4"/>
<path d="M36,348.0 L120,339.0"/>
<path d="M36,349.6 L120,340.6"/>
<path d="M36,351.2 L120,342.2"/>
<path d="M36,352.8 L120,343.8"/>
<path d="M36,354.4 L120,345.4"/>
<path d="M36,356.0 L120,347.0"/>
</g>
<g stroke="#000" stroke-width="0.5" opacity="0.7">
<path d="M38,298 L41,360"/>
<path d="M43,298 L46,360"/>
<path d="M48,298 L51,360"/>
<path d="M53,298 L56,360"/>
<path d="M58,298 L61,360"/>
<path d="M63,298 L66,360"/>
<path d="M68,298 L71,360"/>
<path d="M73,298 L76,360"/>
<path d="M78,298 L81,360"/>
<path d="M83,298 L86,360"/>
<path d="M88,298 L91,360"/>
<path d="M93,298 L96,360"/>
<path d="M98,298 L101,360"/>
<path d="M103,298 L106,360"/>
<path d="M108,298 L111,360"/>
<path d="M113,298 L116,360"/>
</g>
</g>
<use href="#simpanels"/>
<path d="M92,336 L118,325.5 L119,327.5 L93,338.5Z" fill="#2030e8"/>
<use href="#simbars"/>
<g fill="#3040ff" opacity="0.85"><path d="M55.2,313 h1.6 v30 h-1.6z"/><path d="M62.6,315 h1.6 v31 h-1.6z"/><path d="M70.4,317 h1.6 v31 h-1.6z"/></g>
</g>
<g transform="translate(266.5,7.3)">
<use href="#simwire"/>
<g clip-path="url(#floorclip)">
<path d="M39.8,327.5 L50.9,319.5 L74.7,303.6 L87.5,311.6 L111.3,329 L116,330.6 L101.8,337 L82.7,354.5 L39.8,329Z" fill="#18a0a0"/>
<path d="M60,330 L90,318 L112,329 L101,337 L82.7,354.5 L60,342Z" fill="#38c048"/>
<path d="M40,328 L60,318 L70,322 L60,333 L42,331Z" fill="#68d838"/>
<path d="M48,318 L75,305 L88,311 L70,318 L55,322Z" fill="#1a8a9a"/>
<path d="M66,336 L82.7,344 L82.7,354.5 L70,348Z" fill="#70d020"/>
<g stroke="#000" stroke-width="0.75" opacity="0.85">
<path d="M36,300.0 L120,291.0"/>
<path d="M36,301.6 L120,292.6"/>
<path d="M36,303.2 L120,294.2"/>
<path d="M36,304.8 L120,295.8"/>
<path d="M36,306.4 L120,297.4"/>
<path d="M36,308.0 L120,299.0"/>
<path d="M36,309.6 L120,300.6"/>
<path d="M36,311.2 L120,302.2"/>
<path d="M36,312.8 L120,303.8"/>
<path d="M36,314.4 L120,305.4"/>
<path d="M36,316.0 L120,307.0"/>
<path d="M36,317.6 L120,308.6"/>
<path d="M36,319.2 L120,310.2"/>
<path d="M36,320.8 L120,311.8"/>
<path d="M36,322.4 L120,313.4"/>
<path d="M36,324.0 L120,315.0"/>
<path d="M36,325.6 L120,316.6"/>
<path d="M36,327.2 L120,318.2"/>
<path d="M36,328.8 L120,319.8"/>
<path d="M36,330.4 L120,321.4"/>
<path d="M36,332.0 L120,323.0"/>
<path d="M36,333.6 L120,324.6"/>
<path d="M36,335.2 L120,326.2"/>
<path d="M36,336.8 L120,327.8"/>
<path d="M36,338.4 L120,329.4"/>
<path d="M36,340.0 L120,331.0"/>
<path d="M36,341.6 L120,332.6"/>
<path d="M36,343.2 L120,334.2"/>
<path d="M36,344.8 L120,335.8"/>
<path d="M36,346.4 L120,337.4"/>
<path d="M36,348.0 L120,339.0"/>
<path d="M36,349.6 L120,340.6"/>
<path d="M36,351.2 L120,342.2"/>
<path d="M36,352.8 L120,343.8"/>
<path d="M36,354.4 L120,345.4"/>
<path d="M36,356.0 L120,347.0"/>
</g>
<g stroke="#000" stroke-width="0.5" opacity="0.7">
<path d="M38,298 L41,360"/>
<path d="M43,298 L46,360"/>
<path d="M48,298 L51,360"/>
<path d="M53,298 L56,360"/>
<path d="M58,298 L61,360"/>
<path d="M63,298 L66,360"/>
<path d="M68,298 L71,360"/>
<path d="M73,298 L76,360"/>
<path d="M78,298 L81,360"/>
<path d="M83,298 L86,360"/>
<path d="M88,298 L91,360"/>
<path d="M93,298 L96,360"/>
<path d="M98,298 L101,360"/>
<path d="M103,298 L106,360"/>
<path d="M108,298 L111,360"/>
<path d="M113,298 L116,360"/>
</g>
<path d="M40,329 L82.7,354.5 L82,356.5 L40,331Z" fill="#70e020"/>
<path d="M73,348 L82.7,354.5 L76,354Z" fill="#f0d000"/>
<path d="M77,351 L82.7,354.5 L79,355.5Z" fill="#f06010"/>
<path d="M90,336 L112,328 L115,330.5 L93,339Z" fill="#78e020"/>
</g>
<use href="#simpanels"/>
<path d="M92,336 L118,325.5 L119,327.5 L93,338.5Z" fill="#80e020"/>
<use href="#simbars"/>
<g fill="#20c8d8" opacity="0.85"><path d="M55.2,313 h1.6 v30 h-1.6z"/><path d="M62.6,315 h1.6 v31 h-1.6z"/><path d="M70.4,317 h1.6 v31 h-1.6z"/></g>
</g>
<g transform="translate(523,8)">
<use href="#simwire"/>
<g clip-path="url(#floorclip)">
<path d="M39.8,327.5 L50.9,319.5 L74.7,303.6 L87.5,311.6 L111.3,329 L116,330.6 L101.8,337 L82.7,354.5 L39.8,329Z" fill="#1890a8"/>
<path d="M55,322 L80,310 L95,316 L85,325 L65,330Z" fill="#20a0b8"/>
<path d="M66,332 L82.7,338 L82.7,352 L70,346Z" fill="#40b860"/>
<path d="M84,326 L100,320 L110,327 L96,333Z" fill="#1e60c8"/>
<g stroke="#000" stroke-width="0.75" opacity="0.85">
<path d="M36,300.0 L120,291.0"/>
<path d="M36,301.6 L120,292.6"/>
<path d="M36,303.2 L120,294.2"/>
<path d="M36,304.8 L120,295.8"/>
<path d="M36,306.4 L120,297.4"/>
<path d="M36,308.0 L120,299.0"/>
<path d="M36,309.6 L120,300.6"/>
<path d="M36,311.2 L120,302.2"/>
<path d="M36,312.8 L120,303.8"/>
<path d="M36,314.4 L120,305.4"/>
<path d="M36,316.0 L120,307.0"/>
<path d="M36,317.6 L120,308.6"/>
<path d="M36,319.2 L120,310.2"/>
<path d="M36,320.8 L120,311.8"/>
<path d="M36,322.4 L120,313.4"/>
<path d="M36,324.0 L120,315.0"/>
<path d="M36,325.6 L120,316.6"/>
<path d="M36,327.2 L120,318.2"/>
<path d="M36,328.8 L120,319.8"/>
<path d="M36,330.4 L120,321.4"/>
<path d="M36,332.0 L120,323.0"/>
<path d="M36,333.6 L120,324.6"/>
<path d="M36,335.2 L120,326.2"/>
<path d="M36,336.8 L120,327.8"/>
<path d="M36,338.4 L120,329.4"/>
<path d="M36,340.0 L120,331.0"/>
<path d="M36,341.6 L120,332.6"/>
<path d="M36,343.2 L120,334.2"/>
<path d="M36,344.8 L120,335.8"/>
<path d="M36,346.4 L120,337.4"/>
<path d="M36,348.0 L120,339.0"/>
<path d="M36,349.6 L120,340.6"/>
<path d="M36,351.2 L120,342.2"/>
<path d="M36,352.8 L120,343.8"/>
<path d="M36,354.4 L120,345.4"/>
<path d="M36,356.0 L120,347.0"/>
</g>
<g stroke="#000" stroke-width="0.5" opacity="0.7">
<path d="M38,298 L41,360"/>
<path d="M43,298 L46,360"/>
<path d="M48,298 L51,360"/>
<path d="M53,298 L56,360"/>
<path d="M58,298 L61,360"/>
<path d="M63,298 L66,360"/>
<path d="M68,298 L71,360"/>
<path d="M73,298 L76,360"/>
<path d="M78,298 L81,360"/>
<path d="M83,298 L86,360"/>
<path d="M88,298 L91,360"/>
<path d="M93,298 L96,360"/>
<path d="M98,298 L101,360"/>
<path d="M103,298 L106,360"/>
<path d="M108,298 L111,360"/>
<path d="M113,298 L116,360"/>
</g>
<path d="M39.8,327.5 L50,321 L56,321 L45,330Z" fill="#20b0e8"/>
<path d="M40,328.5 L82.7,354.5 L82,356.5 L40,330.5Z" fill="#1a3ae8"/>
<path d="M73,343 L82.7,349 L82.7,355 L75,350Z" fill="#e83010"/>
<path d="M72,338 L80,342 L80,346 L72,342Z" fill="#e0c020"/>
<path d="M95,334 L110,328.5 L113,330.5 L98,336.5Z" fill="#e8a020"/>
<path d="M99,337 L113,331.5 L115,333 L101,339Z" fill="#1a40e8"/>
<path d="M86,338 L96,334 L98,336 L88,340Z" fill="#2060e0"/>
</g>
<use href="#simpanels"/>
<path d="M100,333 L118,325.5 L119,327.5 L101,335.5Z" fill="#e8a020"/><path d="M92,337 L101,333 L101.5,335.5 L93,339Z" fill="#2040e8"/>
<use href="#simbars"/>
<g fill="#20c0e0" opacity="0.85"><path d="M55.2,313 h1.6 v30 h-1.6z"/><path d="M62.6,315 h1.6 v31 h-1.6z"/><path d="M70.4,317 h1.6 v31 h-1.6z"/></g>
</g>
<rect x="224.4" y="280.20" width="6.4" height="7.03" fill="#f80808"/>
<rect x="224.4" y="286.93" width="6.4" height="7.03" fill="#f82a08"/>
<rect x="224.4" y="293.67" width="6.4" height="7.03" fill="#f87a08"/>
<rect x="224.4" y="300.40" width="6.4" height="7.03" fill="#f8c000"/>
<rect x="224.4" y="307.13" width="6.4" height="7.03" fill="#f8f800"/>
<rect x="224.4" y="313.87" width="6.4" height="7.03" fill="#c0f000"/>
<rect x="224.4" y="320.60" width="6.4" height="7.03" fill="#70e808"/>
<rect x="224.4" y="327.33" width="6.4" height="7.03" fill="#30e010"/>
<rect x="224.4" y="334.07" width="6.4" height="7.03" fill="#10d848"/>
<rect x="224.4" y="340.80" width="6.4" height="7.03" fill="#10e0a8"/>
<rect x="224.4" y="347.53" width="6.4" height="7.03" fill="#10f0f0"/>
<rect x="224.4" y="354.27" width="6.4" height="7.03" fill="#10c0f8"/>
<rect x="224.4" y="361.00" width="6.4" height="7.03" fill="#1080f8"/>
<rect x="224.4" y="367.73" width="6.4" height="7.03" fill="#1040f0"/>
<rect x="224.4" y="374.47" width="6.4" height="7.03" fill="#1010e8"/>
<rect x="220.20000000000002" y="279.70" width="3" height="1" fill="#9090a8"/>
<rect x="220.20000000000002" y="299.90" width="3" height="1" fill="#9090a8"/>
<rect x="220.20000000000002" y="320.10" width="3" height="1" fill="#9090a8"/>
<rect x="220.20000000000002" y="340.30" width="3" height="1" fill="#9090a8"/>
<rect x="220.20000000000002" y="360.50" width="3" height="1" fill="#9090a8"/>
<rect x="220.20000000000002" y="380.70" width="3" height="1" fill="#9090a8"/>
<rect x="220.9" y="276.0" width="5" height="1.2" fill="#777"/>
<rect x="496.9" y="287.00" width="6.6" height="7.07" fill="#f80808"/>
<rect x="496.9" y="293.77" width="6.6" height="7.07" fill="#f82a08"/>
<rect x="496.9" y="300.53" width="6.6" height="7.07" fill="#f87a08"/>
<rect x="496.9" y="307.30" width="6.6" height="7.07" fill="#f8c000"/>
<rect x="496.9" y="314.07" width="6.6" height="7.07" fill="#f8f800"/>
<rect x="496.9" y="320.83" width="6.6" height="7.07" fill="#c0f000"/>
<rect x="496.9" y="327.60" width="6.6" height="7.07" fill="#70e808"/>
<rect x="496.9" y="334.37" width="6.6" height="7.07" fill="#30e010"/>
<rect x="496.9" y="341.13" width="6.6" height="7.07" fill="#10d848"/>
<rect x="496.9" y="347.90" width="6.6" height="7.07" fill="#10e0a8"/>
<rect x="496.9" y="354.67" width="6.6" height="7.07" fill="#10f0f0"/>
<rect x="496.9" y="361.43" width="6.6" height="7.07" fill="#10c0f8"/>
<rect x="496.9" y="368.20" width="6.6" height="7.07" fill="#1080f8"/>
<rect x="496.9" y="374.97" width="6.6" height="7.07" fill="#1040f0"/>
<rect x="496.9" y="381.73" width="6.6" height="7.07" fill="#1010e8"/>
<rect x="492.7" y="286.50" width="3" height="1" fill="#9090a8"/>
<rect x="492.7" y="306.80" width="3" height="1" fill="#9090a8"/>
<rect x="492.7" y="327.10" width="3" height="1" fill="#9090a8"/>
<rect x="492.7" y="347.40" width="3" height="1" fill="#9090a8"/>
<rect x="492.7" y="367.70" width="3" height="1" fill="#9090a8"/>
<rect x="492.7" y="388.00" width="3" height="1" fill="#9090a8"/>
<rect x="493.4" y="282.8" width="5" height="1.2" fill="#777"/>
<rect x="754.5" y="288.00" width="6.9" height="7.10" fill="#f80808"/>
<rect x="754.5" y="294.80" width="6.9" height="7.10" fill="#f82a08"/>
<rect x="754.5" y="301.60" width="6.9" height="7.10" fill="#f87a08"/>
<rect x="754.5" y="308.40" width="6.9" height="7.10" fill="#f8c000"/>
<rect x="754.5" y="315.20" width="6.9" height="7.10" fill="#f8f800"/>
<rect x="754.5" y="322.00" width="6.9" height="7.10" fill="#c0f000"/>
<rect x="754.5" y="328.80" width="6.9" height="7.10" fill="#70e808"/>
<rect x="754.5" y="335.60" width="6.9" height="7.10" fill="#30e010"/>
<rect x="754.5" y="342.40" width="6.9" height="7.10" fill="#10d848"/>
<rect x="754.5" y="349.20" width="6.9" height="7.10" fill="#10e0a8"/>
<rect x="754.5" y="356.00" width="6.9" height="7.10" fill="#10f0f0"/>
<rect x="754.5" y="362.80" width="6.9" height="7.10" fill="#10c0f8"/>
<rect x="754.5" y="369.60" width="6.9" height="7.10" fill="#1080f8"/>
<rect x="754.5" y="376.40" width="6.9" height="7.10" fill="#1040f0"/>
<rect x="754.5" y="383.20" width="6.9" height="7.10" fill="#1010e8"/>
<rect x="750.3" y="287.50" width="3" height="1" fill="#9090a8"/>
<rect x="750.3" y="307.90" width="3" height="1" fill="#9090a8"/>
<rect x="750.3" y="328.30" width="3" height="1" fill="#9090a8"/>
<rect x="750.3" y="348.70" width="3" height="1" fill="#9090a8"/>
<rect x="750.3" y="369.10" width="3" height="1" fill="#9090a8"/>
<rect x="750.3" y="389.50" width="3" height="1" fill="#9090a8"/>
<rect x="751.0" y="283.8" width="5" height="1.2" fill="#777"/>
</svg>
</body></html>
